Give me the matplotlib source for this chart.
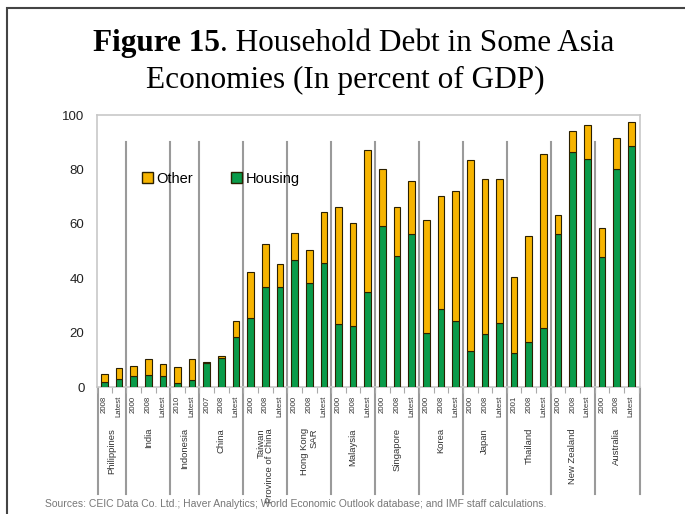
import matplotlib
matplotlib.use('Agg')
import matplotlib.pyplot as plt
from matplotlib.patches import Patch, Rectangle
from matplotlib.lines import Line2D
import numpy as np

countries = ['Philippines', 'India', 'Indonesia', 'China', 'Taiwan\nProvince of China',
             'Hong Kong\nSAR', 'Malaysia', 'Singapore', 'Korea', 'Japan', 'Thailand',
             'New Zealand', 'Australia']
years = [['2008', 'Latest'],
         ['2000', '2008', 'Latest'],
         ['2010', 'Latest'],
         ['2007', '2008', 'Latest'],
         ['2000', '2008', 'Latest'],
         ['2000', '2008', 'Latest'],
         ['2000', '2008', 'Latest'],
         ['2000', '2008', 'Latest'],
         ['2000', '2008', 'Latest'],
         ['2000', '2008', 'Latest'],
         ['2001', '2008', 'Latest'],
         ['2000', '2008', 'Latest'],
         ['2000', '2008', 'Latest']]

housing = [2.0, 2.8, 4.0, 4.4, 4.2, 1.6, 2.6, 8.9, 10.8, 18.3, 25.5, 36.9, 36.8,
           46.7, 38.1, 45.5, 23.0, 22.5, 34.8, 59.3, 48.3, 56.1, 19.7, 28.7, 24.3,
           13.4, 19.4, 23.4, 12.6, 16.7, 21.8, 56.1, 86.5, 83.8, 47.9, 80.1, 88.6]
other = [2.8, 4.1, 3.8, 5.8, 4.1, 5.6, 7.6, 0.4, 0.7, 6.0, 16.7, 15.6, 8.5,
         9.8, 12.3, 18.7, 43.1, 37.7, 52.3, 20.7, 18.0, 19.8, 41.7, 41.5, 47.9,
         70.1, 56.9, 53.1, 28.0, 38.8, 63.7, 7.1, 7.7, 12.5, 10.4, 11.6, 8.7]

green = '#0a9b4a'
gold = '#f6b400'
edge = '#2b2000'

fig = plt.figure(figsize=(6.85, 5.14), dpi=100)
ax = fig.add_axes([97/685, 1 - 387/514, (640 - 97)/685, (387 - 115)/514])

x = np.arange(len(housing))
ax.bar(x, housing, width=0.45, color=green, edgecolor=edge, linewidth=0.8, zorder=3)
ax.bar(x, other, width=0.45, bottom=housing, color=gold, edgecolor=edge, linewidth=0.8, zorder=3)

ax.set_xlim(-0.41, 36.6)
ax.set_ylim(0, 100)
ax.set_yticks([0, 20, 40, 60, 80, 100])
ax.tick_params(axis='y', length=0, pad=9, labelsize=9.5, labelcolor='#222')
for lab in ax.get_yticklabels():
    lab.set_family('Liberation Sans')
for s in ax.spines.values():
    s.set_color('#c8c8c8')
    s.set_linewidth(1.2)

# small ticks between bars
ax.set_xticks(np.arange(len(housing) + 1) - 0.5)
ax.set_xticklabels([])
ax.tick_params(axis='x', length=4, color='#aaaaaa', width=0.8)

# category labels and group separators
trans = ax.get_xaxis_transform()
ypx = lambda py: (387 - py) / 272.0  # pixel row -> axes fraction
start = 0
bounds = [-0.43]
for c, yrs in zip(countries, years):
    n = len(yrs)
    for k, yr in enumerate(yrs):
        ax.text(start + k, ypx(396), yr, transform=trans, rotation=90, ha='center',
                va='top', fontsize=5.6, color='#333', family='Liberation Sans')
    ax.text(start + (n - 1) / 2, ypx(428), c, transform=trans, rotation=90,
            ha='center', va='top', fontsize=6.8, color='#333', family='Liberation Sans',
            linespacing=1.0, multialignment='right')
    start += n
    bounds.append(start - 0.5)
bounds[-1] = 36.6
for i, b in enumerate(bounds):
    top = ypx(388) if i in (0, len(bounds) - 1) else 90.2 / 100
    ax.add_line(Line2D([b, b], [top, ypx(494)], transform=trans, color='#9a9a9a',
                       linewidth=1.5, clip_on=False, zorder=1))

handles = [Patch(facecolor=gold, edgecolor=edge, label='Other'),
           Patch(facecolor=green, edgecolor=edge, label='Housing')]
leg = ax.legend(handles=handles, loc='center left', bbox_to_anchor=(0.058, 0.765),
                ncol=2, frameon=False, handlelength=0.75, handleheight=0.75,
                handletextpad=0.25, columnspacing=2.6,
                prop={'family': 'Liberation Sans', 'size': 10.5})

# title with bold prefix
fig.canvas.draw()
r = fig.canvas.get_renderer()
tsize = 22.5
t1 = fig.text(0, 1 - 51/514, 'Figure 15', family='Liberation Serif', weight='bold',
              fontsize=tsize, va='baseline')
t2 = fig.text(0, 1 - 51/514, '. Household Debt in Some Asia', family='Liberation Serif',
              fontsize=tsize, va='baseline')
w1 = t1.get_window_extent(r).width
w2 = t2.get_window_extent(r).width
x0 = 354 - (w1 + w2) / 2
t1.set_x(x0 / 685)
t2.set_x((x0 + w1) / 685)
fig.text(345/685, 1 - 88/514, 'Economies (In percent of GDP)', family='Liberation Serif',
         fontsize=tsize, ha='center', va='baseline')

fig.text(45/685, 1 - 504/514,
         'Sources: CEIC Data Co. Ltd.; Haver Analytics; World Economic Outlook database; and IMF staff calculations.',
         fontsize=7.5, color='#777', family='Liberation Sans', va='center')

# outer border
fig.patches.append(Rectangle((7/685, -0.1), 1.2, 1.1 - 8/514, transform=fig.transFigure,
                             fill=False, edgecolor='#444', linewidth=1.5))

fig.savefig('out.png', dpi=100)
